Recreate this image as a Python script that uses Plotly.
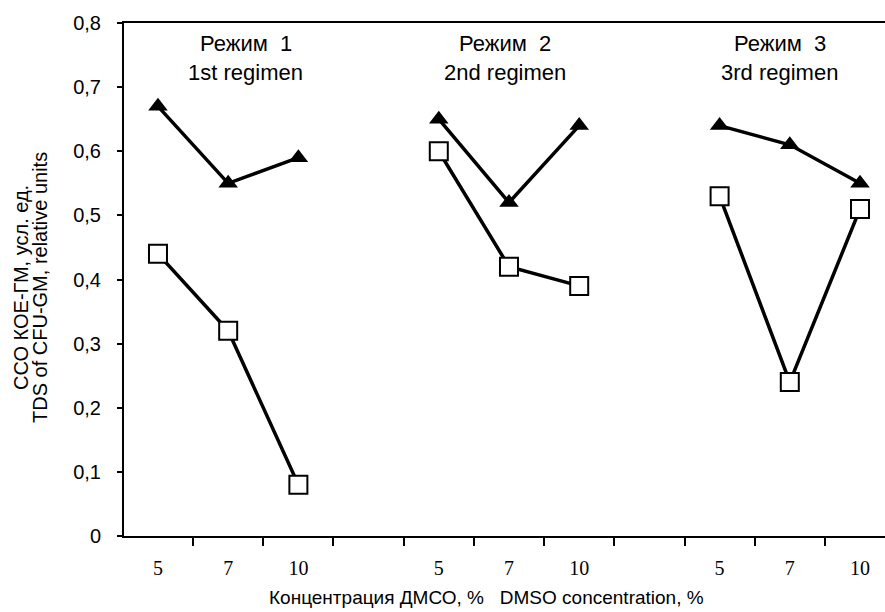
import plotly.graph_objects as go

# --- data ---
regimen_line1 = ["Режим  1", "Режим  2", "Режим  3"]
regimen_line2 = ["1st regimen", "2nd regimen", "3rd regimen"]
conc_labels = ["5", "7", "10"]
group_positions = [[0, 1, 2], [4, 5, 6], [8, 9, 10]]
triangle_values = [[0.67, 0.55, 0.59], [0.65, 0.52, 0.64], [0.64, 0.61, 0.55]]
square_values = [[0.44, 0.32, 0.08], [0.60, 0.42, 0.39], [0.53, 0.24, 0.51]]
y_tickvals = [0, 0.1, 0.2, 0.3, 0.4, 0.5, 0.6, 0.7, 0.8]
y_ticktext = ["0", "0,1", "0,2", "0,3", "0,4", "0,5", "0,6", "0,7", "0,8"]
label_x = [1.25, 4.94, 8.86]

fig = go.Figure()
for pos, tv in zip(group_positions, triangle_values):
    fig.add_trace(go.Scatter(x=pos, y=tv, mode="lines+markers",
                             line=dict(color="black", width=3.5),
                             marker=dict(symbol="triangle-up", size=17, color="black",
                                         line=dict(width=0)),
                             showlegend=False, cliponaxis=False))
for pos, sv in zip(group_positions, square_values):
    fig.add_trace(go.Scatter(x=pos, y=sv, mode="lines+markers",
                             line=dict(color="black", width=3.5),
                             marker=dict(symbol="square", size=18, color="white",
                                         line=dict(color="black", width=2)),
                             showlegend=False, cliponaxis=False))

all_pos = [p for g in group_positions for p in g]
all_lab = [l for g in group_positions for l in conc_labels]

x0 = -0.484
x1 = 10.356
fig.update_layout(
    width=885, height=612,
    margin=dict(l=124, r=0, t=23, b=76),
    plot_bgcolor="white", paper_bgcolor="white",
    xaxis=dict(range=[x0, x1], showgrid=False, zeroline=False,
               showline=True, linecolor="black", linewidth=2, mirror=True,
               tickvals=[i + 0.5 for i in range(-1, 10)], ticktext=[""] * 11,
               ticks="outside", ticklen=8, tickwidth=1.5, tickcolor="black"),
    xaxis2=dict(range=[x0, x1], overlaying="x", side="bottom", anchor="y",
                showgrid=False, zeroline=False, showline=False,
                tickvals=all_pos, ticktext=all_lab, ticks="outside", ticklen=14,
                tickcolor="rgba(0,0,0,0)",
                tickfont=dict(family="Liberation Serif", size=20, color="black")),
    yaxis=dict(range=[0, 0.8], showgrid=False, zeroline=False,
               showline=True, linecolor="black", linewidth=2,
               tickvals=y_tickvals, ticktext=y_ticktext,
               ticks="outside", ticklen=5, tickwidth=1.5, tickcolor="black",
               ticklabelstandoff=12,
               tickfont=dict(family="Liberation Sans", size=20, color="black")),
)
fig.add_trace(go.Scatter(x=all_pos, y=[None] * len(all_pos), xaxis="x2", yaxis="y",
                         showlegend=False, hoverinfo="skip"))

def px_to_y(py):
    return (536 - py) / 513

for lx, t1, t2 in zip(label_x, regimen_line1, regimen_line2):
    fig.add_annotation(x=lx, y=px_to_y(43), xref="x", yref="paper", text=t1, showarrow=False,
                       font=dict(family="Liberation Sans", size=22, color="black"),
                       xanchor="center", yanchor="middle")
    fig.add_annotation(x=lx, y=px_to_y(72), xref="x", yref="paper", text=t2, showarrow=False,
                       font=dict(family="Liberation Sans", size=22, color="black"),
                       xanchor="center", yanchor="middle")

fig.add_annotation(x=(486 - 124) / 761, y=px_to_y(598), xref="paper", yref="paper",
                   text="Концентрация ДМСО, %   DMSO concentration, %", showarrow=False,
                   font=dict(family="Liberation Sans", size=19, color="black"),
                   xanchor="center", yanchor="middle")

for xc, txt in [(21, "ССО КОЕ-ГМ, усл. ед."), (40, "TDS of CFU-GM, relative units")]:
    fig.add_annotation(x=-(124 - xc) / 761, y=px_to_y(288), xref="paper", yref="paper",
                       text=txt, showarrow=False, textangle=-90,
                       font=dict(family="Liberation Sans", size=20, color="black"),
                       xanchor="center", yanchor="middle")

fig.write_html("out.html")
